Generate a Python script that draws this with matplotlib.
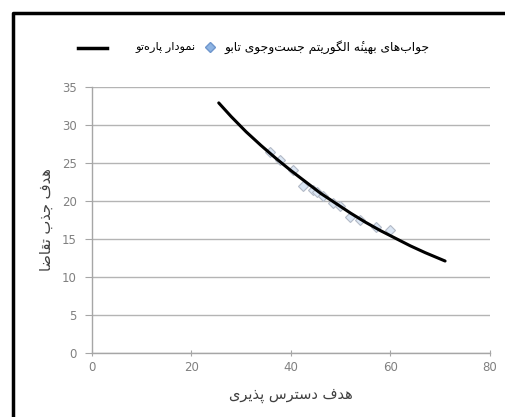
import matplotlib
matplotlib.use("Agg")
import matplotlib.pyplot as plt
from matplotlib.lines import Line2D

# Persian text shaping (matplotlib has no bidi/shaping of its own)
# letter: (isolated, final, initial, medial) ; right-joining letters have only 2 forms
FORMS = {
    'ا': ('\uFE8D', '\uFE8E'),
    'ب': ('\uFE8F', '\uFE90', '\uFE91', '\uFE92'),
    'پ': ('\uFB56', '\uFB57', '\uFB58', '\uFB59'),
    'ت': ('\uFE95', '\uFE96', '\uFE97', '\uFE98'),
    'ج': ('\uFE9D', '\uFE9E', '\uFE9F', '\uFEA0'),
    'د': ('\uFEA9', '\uFEAA'),
    'ذ': ('\uFEAB', '\uFEAC'),
    'ر': ('\uFEAD', '\uFEAE'),
    'ز': ('\uFEAF', '\uFEB0'),
    'س': ('\uFEB1', '\uFEB2', '\uFEB3', '\uFEB4'),
    'ض': ('\uFEBD', '\uFEBE', '\uFEBF', '\uFEC0'),
    'ف': ('\uFED1', '\uFED2', '\uFED3', '\uFED4'),
    'ق': ('\uFED5', '\uFED6', '\uFED7', '\uFED8'),
    'ک': ('\uFB8E', '\uFB8F', '\uFB90', '\uFB91'),
    'گ': ('\uFB92', '\uFB93', '\uFB94', '\uFB95'),
    'ل': ('\uFEDD', '\uFEDE', '\uFEDF', '\uFEE0'),
    'م': ('\uFEE1', '\uFEE2', '\uFEE3', '\uFEE4'),
    'ن': ('\uFEE5', '\uFEE6', '\uFEE7', '\uFEE8'),
    'ه': ('\uFEE9', '\uFEEA', '\uFEEB', '\uFEEC'),
    'و': ('\uFEED', '\uFEEE'),
    # heh with hamza above: heh forms + combining hamza (font lacks FBA4/FBA5)
    'ۀ': ('\uFEE9\u0654', '\uFEEA\u0654'),
    'ی': ('\uFBFC', '\uFBFD', '\uFBFE', '\uFBFF'),
}


def fa(text):
    out = []
    n = len(text)
    for i, ch in enumerate(text):
        if ch not in FORMS:
            if ch != '\u200c':
                out.append(ch)
            continue
        prev = text[i - 1] if i > 0 else ''
        nxt = text[i + 1] if i + 1 < n else ''
        join_prev = prev in FORMS and len(FORMS[prev]) == 4
        join_next = nxt in FORMS and len(FORMS[ch]) == 4
        f = FORMS[ch]
        if join_prev and join_next:
            out.append(f[3])
        elif join_prev:
            out.append(f[1])
        elif join_next:
            out.append(f[2])
        else:
            out.append(f[0])
    return ''.join(out[::-1])


# data
tabu_x = [35.8, 37.8, 40.5, 42.4, 44.5, 45.2, 46.5, 48.5, 49.8, 51.9, 53.9, 57.2, 59.9]
tabu_y = [26.5, 25.4, 24.1, 22.0, 21.4, 21.2, 20.6, 19.7, 19.3, 17.9, 17.5, 16.6, 16.2]

pareto_x = [25.5, 28, 31, 34, 37, 40, 43, 46, 49, 52, 55, 58, 61, 64, 67, 71]
pareto_y = [32.9, 31.1, 29.1, 27.3, 25.6, 24.0, 22.5, 21.0, 19.7, 18.4, 17.2, 16.1, 15.1, 14.1, 13.2, 12.1]

xticks = [0, 20, 40, 60, 80]
yticks = [0, 5, 10, 15, 20, 25, 30, 35]

label_tabu = 'جواب‌های بهینۀ الگوریتم جست‌وجوی تابو'
label_pareto = 'نمودار پاره‌تو'
xlabel = 'هدف دسترس پذیری'
ylabel = 'هدف جذب تقاضا'

FONT = ['DejaVu Sans']

fig = plt.figure(figsize=(5.05, 4.17), dpi=100)
ax = fig.add_axes([0.182, 0.1535, 0.788, 0.638])

ax.plot(tabu_x, tabu_y, linestyle='none', marker='D', markersize=5,
        markerfacecolor='#dbe6f4', markeredgecolor='#b3bac6', markeredgewidth=0.8, zorder=3)
ax.plot(pareto_x, pareto_y, color='black', lw=2.2, zorder=4, solid_capstyle='round')

ax.set_xlim(0, 80)
ax.set_ylim(0, 35)
ax.set_xticks(xticks)
ax.set_yticks(yticks)
ax.yaxis.grid(True, color='#b4b4b4', lw=1.0)
ax.set_axisbelow(True)
for s in ['top', 'right']:
    ax.spines[s].set_visible(False)
for s in ['left', 'bottom']:
    ax.spines[s].set_color('#a6a6a6')
    ax.spines[s].set_linewidth(1.0)
ax.tick_params(axis='y', colors='#a6a6a6', labelcolor='#808080', length=5, direction='out', labelsize=8.5, pad=6)
ax.tick_params(axis='x', colors='#a6a6a6', labelcolor='#808080', length=4, direction='inout', labelsize=8.5, pad=4)

ax.set_xlabel(fa(xlabel), fontsize=10.5, color='#404040', family=FONT, labelpad=10)
ax.set_ylabel(fa(ylabel), fontsize=10.5, color='#404040', family=FONT, labelpad=6)

# legend drawn in figure coordinates like the original
W, H = 505, 417
fig.add_artist(Line2D([78 / W, 107 / W], [1 - 48 / H, 1 - 48 / H], color='black', lw=2.5))
fig.text(196 / W, 1 - 47 / H, fa(label_pareto), ha='right', va='center', fontsize=8.2, family=FONT, color='black')
fig.add_artist(Line2D([210 / W], [1 - 47 / H], marker='D', markersize=5.5, linestyle='none',
                      markerfacecolor='#8eb4e3', markeredgecolor='#6f96cc'))
fig.text(430 / W, 1 - 47 / H, fa(label_tabu), ha='right', va='center', fontsize=8.8, family=FONT, color='black')

# outer frame (partly off the canvas)
fig.add_artist(Line2D([13 / W, 13 / W, 1.0], [0.0, 1 - 13 / H, 1 - 13 / H], color='black', lw=2.5))

fig.savefig('out.png', dpi=100)
